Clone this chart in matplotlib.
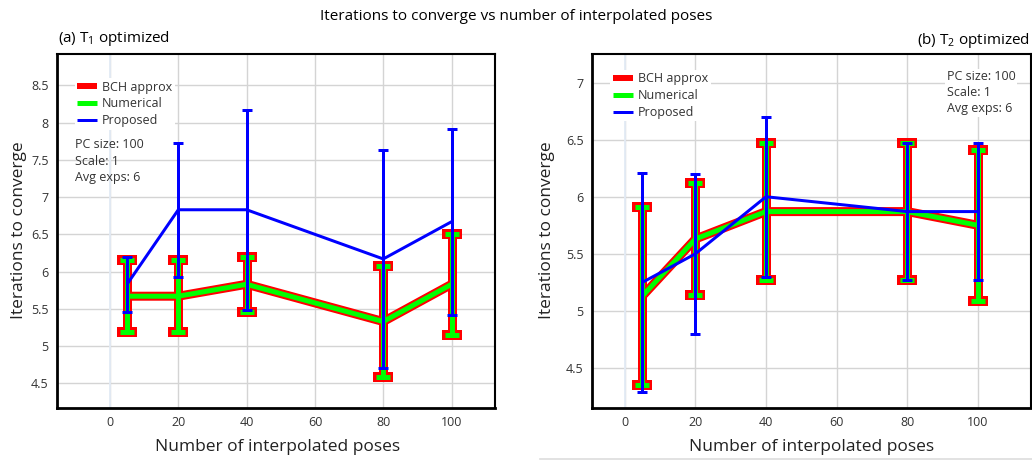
import matplotlib
matplotlib.use('Agg')
import matplotlib.pyplot as plt
from matplotlib.lines import Line2D

plt.rcParams['font.family'] = ['Open Sans', 'DejaVu Sans']
plt.rcParams['mathtext.fontset'] = 'custom'
plt.rcParams['mathtext.rm'] = 'Open Sans'
plt.rcParams['mathtext.it'] = 'Open Sans'

# ── data ──────────────────────────────────────────────────────────────────────
poses = [5, 20, 40, 80, 100]

# (a) T1 optimized
bch_a_mean  = [5.67, 5.67, 5.83, 5.33, 5.83]
bch_a_err   = [0.48, 0.48, 0.37, 0.74, 0.68]
num_a_mean  = [5.67, 5.67, 5.83, 5.33, 5.83]
num_a_err   = [0.48, 0.48, 0.37, 0.74, 0.68]
prop_a_mean = [5.83, 6.83, 6.83, 6.17, 6.67]
prop_a_err  = [0.37, 0.90, 1.34, 1.46, 1.25]

# (b) T2 optimized
bch_b_mean  = [5.13, 5.63, 5.87, 5.87, 5.75]
bch_b_err   = [0.78, 0.49, 0.60, 0.60, 0.66]
num_b_mean  = [5.13, 5.63, 5.87, 5.87, 5.75]
num_b_err   = [0.78, 0.49, 0.60, 0.60, 0.66]
prop_b_mean = [5.25, 5.50, 6.00, 5.87, 5.87]
prop_b_err  = [0.96, 0.70, 0.70, 0.60, 0.60]

x_ticks   = [0, 20, 40, 60, 80, 100]
y_ticks_a = [4.5, 5, 5.5, 6, 6.5, 7, 7.5, 8, 8.5]
y_ticks_b = [4.5, 5, 5.5, 6, 6.5, 7]
info_text = 'PC size: 100\nScale: 1\nAvg exps: 6'

RED, GREEN, BLUE = '#ff0000', '#00ff00', '#0000ff'
PX = 72 / 100  # points per pixel

W, H = 1032, 463
fig = plt.figure(figsize=(W / 100, H / 100), dpi=100)


def make_axes(left, right, top, bottom):
    return fig.add_axes([left / W, 1 - bottom / H, (right - left) / W, (bottom - top) / H])


def style_axes(ax, xlim, ylim, yticks):
    ax.set_xlim(*xlim)
    ax.set_ylim(*ylim)
    ax.set_xticks(x_ticks)
    ax.set_xticklabels([str(t) for t in x_ticks])
    ax.set_yticks(yticks)
    ax.set_yticklabels([f'{t:g}' for t in yticks])
    ax.tick_params(length=0, labelsize=9, colors='#333333', pad=6)
    ax.grid(True, color='#d4d4d4', lw=1.0)
    ax.set_axisbelow(True)
    ax.axvline(0, color='#e3ebf5', lw=1.3, zorder=0.6)
    for s in ['left', 'bottom']:
        ax.spines[s].set_linewidth(2.0)
    for s in ['top', 'right']:
        ax.spines[s].set_linewidth(1.5)


def draw_series(ax, bch_m, bch_e, num_m, num_e, prop_m, prop_e):
    for m, e, c, lw, cs, ct, z in [(bch_m, bch_e, RED, 9, 10, 10, 3),
                                   (num_m, num_e, GREEN, 5, 7, 5, 4),
                                   (prop_m, prop_e, BLUE, 3, 5, 3, 5)]:
        line, caps, bars = ax.errorbar(poses, m, yerr=e, color=c, lw=lw * PX,
                                       elinewidth=lw * PX, capsize=cs * PX,
                                       capthick=ct * PX, zorder=z)
        line.set_solid_capstyle('butt')
        for b in bars:
            b.set_capstyle('butt')


handles = [Line2D([], [], color=RED, lw=6 * PX, solid_capstyle='butt'),
           Line2D([], [], color=GREEN, lw=5 * PX, solid_capstyle='butt'),
           Line2D([], [], color=BLUE, lw=3 * PX, solid_capstyle='butt')]
labels = ['BCH approx', 'Numerical', 'Proposed']
leg_kw = dict(loc='upper left', fontsize=9, frameon=True, framealpha=1,
              edgecolor='none', borderpad=0.2, handlelength=1.6,
              handletextpad=0.4, labelspacing=0.3, borderaxespad=0,
              fancybox=False)

# ── (a) ───────────────────────────────────────────────────────────────────────
ax1 = make_axes(57, 495, 54, 408)
style_axes(ax1, (-15.5, 112.7), (4.17, 8.92), y_ticks_a)
draw_series(ax1, bch_a_mean, bch_a_err, num_a_mean, num_a_err, prop_a_mean, prop_a_err)
leg = ax1.legend(handles, labels, bbox_to_anchor=(0.04, 0.932), **leg_kw)
for t in leg.get_texts():
    t.set_color('#333333')
ax1.text(0.04, 0.763, info_text, transform=ax1.transAxes, fontsize=9,
         va='top', ha='left', color='#333333', linespacing=1.38, zorder=6)

# ── (b) ───────────────────────────────────────────────────────────────────────
ax2 = make_axes(592, 1031, 54, 408)
style_axes(ax2, (-9.25, 115.0), (4.15, 7.25), y_ticks_b)
draw_series(ax2, bch_b_mean, bch_b_err, num_b_mean, num_b_err, prop_b_mean, prop_b_err)
leg = ax2.legend(handles, labels, bbox_to_anchor=(0.042, 0.955), **leg_kw)
for t in leg.get_texts():
    t.set_color('#333333')
ax2.text(0.808, 0.955, info_text, transform=ax2.transAxes, fontsize=9,
         va='top', ha='left', color='#333333', linespacing=1.32, zorder=6,
         bbox=dict(facecolor='white', edgecolor='none', pad=1))

# ── titles / labels ───────────────────────────────────────────────────────────
fig.text(516 / W, 1 - 17 / H, 'Iterations to converge vs number of interpolated poses',
         ha='center', va='center', fontsize=11)
fig.text(58 / W, 1 - 38 / H, r'(a) T$_\mathregular{1}$ optimized', ha='left',
         va='center', fontsize=11)
fig.text(1030 / W, 1 - 40 / H, r'(b) T$_\mathregular{2}$ optimized', ha='right',
         va='center', fontsize=11)
fig.text(278 / W, 1 - 447 / H, 'Number of interpolated poses', ha='center',
         va='center', fontsize=12.5, color='#222222')
fig.text(812 / W, 1 - 447 / H, 'Number of interpolated poses', ha='center',
         va='center', fontsize=12.5, color='#222222')
fig.text(19 / W, 1 - 230 / H, 'Iterations to converge', ha='center', va='center',
         rotation=90, fontsize=12.5, color='#222222')
fig.text(547 / W, 1 - 230 / H, 'Iterations to converge', ha='center', va='center',
         rotation=90, fontsize=12.5, color='#222222')

fig.add_artist(Line2D([540 / W, 1.0], [1 - 459 / H, 1 - 459 / H],
                      color='#dddddd', lw=1.2, transform=fig.transFigure))

fig.savefig('out.png', dpi=100)
